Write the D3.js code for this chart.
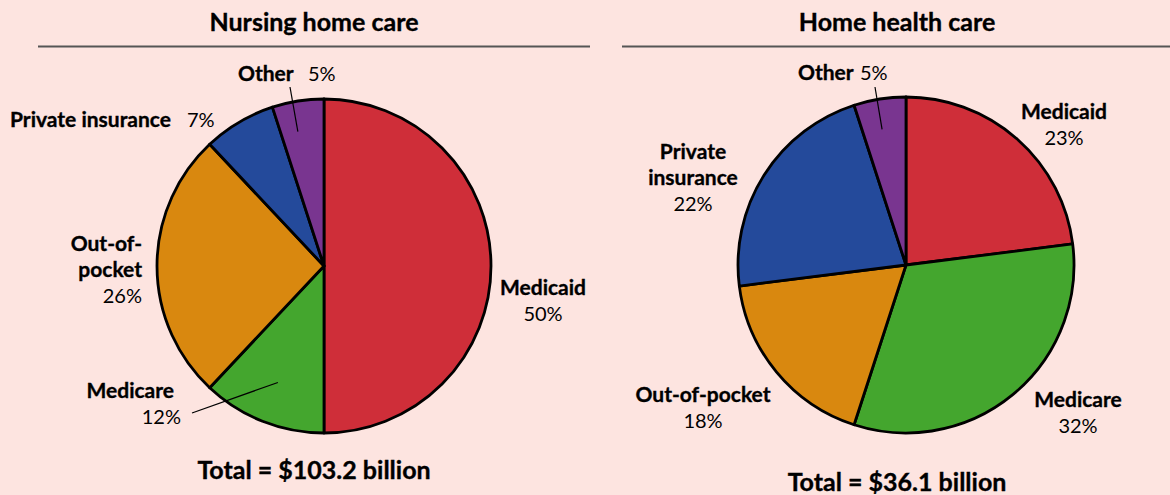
<!DOCTYPE html>
<html>
<head>
<meta charset="utf-8">
<script src="https://cdn.jsdelivr.net/npm/d3@7"></script>
<style>
  html, body { margin: 0; padding: 0; background: #fde4e0; }
  svg { display: block; font-family: Lato, "Open Sans", sans-serif; }
  .bold { font-weight: bold; stroke: #000; stroke-width: 0.35px; }
</style>
</head>
<body>
<div id="chart"></div>
<script>
// data
var categories = ["Medicaid", "Medicare", "Out-of-pocket", "Private insurance", "Other"];
var nursingValues = [50, 12, 26, 7, 5];
var homeHealthValues = [23, 32, 18, 22, 5];
var panelTitles = ["Nursing home care", "Home health care"];
var totals = ["Total = $103.2 billion", "Total = $36.1 billion"];

var colors = d3.scaleOrdinal()
    .domain(categories)
    .range(["#cf2e39", "#44a62e", "#d9880f", "#244a9b", "#793590"]);

var w = 1170, h = 495;

var svg = d3.select("#chart")
    .append("svg")
    .attr("width", w)
    .attr("height", h);

svg.append("rect").attr("width", w).attr("height", h).attr("fill", "#fde4e0");

// layout for each panel (positions only)
var panels = [
    {
        values: nursingValues, cx: 324, cy: 266, r: 167,
        titleX: 314, lineX1: 38, lineX2: 590, totalY: 479,
        labels: [
            {lines: ["Medicaid"], pct: "50%", x: 543, y: 295, anchor: "middle"},
            {lines: ["Medicare"], pct: "12%", x: 174, y: 398, pctX: 181, anchor: "end",
                leader: {x: 192, y: 413, f: 0.75}},
            {lines: ["Out-of-", "pocket"], pct: "26%", x: 142, y: 251, anchor: "end"},
            {lines: ["Private insurance"], pct: "7%", x: 10, y: 127, anchor: "start", inline: 187},
            {lines: ["Other"], pct: "5%", x: 238, y: 81, anchor: "start", inline: 308,
                leader: {x: 290, y: 87, f: 0.82, da: -2}}
        ]
    },
    {
        values: homeHealthValues, cx: 906, cy: 265, r: 168,
        titleX: 897, lineX1: 622, lineX2: 1170, totalY: 491,
        labels: [
            {lines: ["Medicaid"], pct: "23%", x: 1064, y: 119, anchor: "middle"},
            {lines: ["Medicare"], pct: "32%", x: 1078, y: 407, anchor: "middle"},
            {lines: ["Out-of-pocket"], pct: "18%", x: 703, y: 402, anchor: "middle"},
            {lines: ["Private", "insurance"], pct: "22%", x: 693, y: 159, anchor: "middle"},
            {lines: ["Other"], pct: "5%", x: 798, y: 80, anchor: "start", inline: 860,
                leader: {x: 875, y: 87, f: 0.82, da: -1}}
        ]
    }
];

var pie = d3.pie().sort(null).value(function(d) { return d; });

panels.forEach(function(p, pi) {
    var g = svg.append("g");

    // title and rule
    g.append("text")
        .attr("class", "bold")
        .attr("x", p.titleX).attr("y", 31)
        .attr("text-anchor", "middle")
        .style("font-size", "25px")
        .text(panelTitles[pi]);
    g.append("line")
        .attr("x1", p.lineX1).attr("x2", p.lineX2)
        .attr("y1", 46.5).attr("y2", 46.5)
        .attr("stroke", "#555").attr("stroke-width", 2);

    var arcs = pie(p.values);
    var arc = d3.arc().innerRadius(0).outerRadius(p.r);

    var pg = g.append("g").attr("transform", "translate(" + p.cx + "," + p.cy + ")");
    pg.selectAll("path")
        .data(arcs)
        .enter().append("path")
        .attr("d", arc)
        .attr("fill", function(d, i) { return colors(categories[i]); })
        .attr("stroke", "#000")
        .attr("stroke-width", 2.8)
        .attr("stroke-linejoin", "round");

    // labels
    p.labels.forEach(function(l, i) {
        var t = g.append("text")
            .attr("class", "bold")
            .attr("text-anchor", l.anchor)
            .style("font-size", "21px");
        l.lines.forEach(function(s, j) {
            t.append("tspan")
                .attr("x", l.x).attr("y", l.y + j * 26)
                .text(s);
        });
        if (l.inline) {
            g.append("text")
                .attr("x", l.inline).attr("y", l.y)
                .style("font-size", "20px")
                .text(l.pct);
        } else {
            g.append("text")
                .attr("x", l.pctX || l.x).attr("y", l.y + l.lines.length * 26)
                .attr("text-anchor", l.anchor)
                .style("font-size", "20px")
                .text(l.pct);
        }
        if (l.leader) {
            var a = arcs[i];
            var mid = (a.startAngle + a.endAngle) / 2 + (l.leader.da || 0) * Math.PI / 180;
            var rr = p.r * l.leader.f;
            g.append("line")
                .attr("x1", l.leader.x).attr("y1", l.leader.y)
                .attr("x2", p.cx + rr * Math.sin(mid))
                .attr("y2", p.cy - rr * Math.cos(mid))
                .attr("stroke", "#000").attr("stroke-width", 1.2);
        }
    });

    // total
    g.append("text")
        .attr("class", "bold")
        .attr("x", p.titleX).attr("y", p.totalY)
        .attr("text-anchor", "middle")
        .style("font-size", "25px")
        .text(totals[pi]);
});
</script>
</body>
</html>
